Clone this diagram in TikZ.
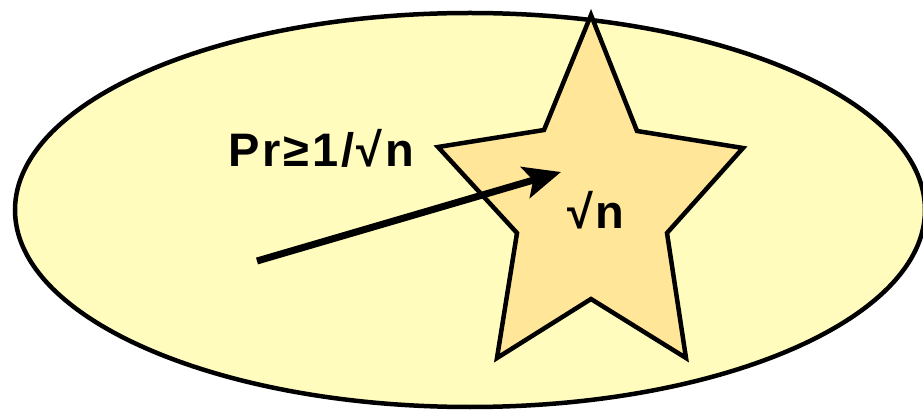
\documentclass[tikz,border=0pt]{standalone}
\usepackage{fontspec}
\setmainfont{Liberation Sans}
\usetikzlibrary{arrows.meta,shapes.geometric,positioning}
\definecolor{setyellow}{RGB}{255,252,190}
\definecolor{staryellow}{RGB}{255,230,153}
\tikzset{
  lbl/.style={font=\bfseries\fontsize{47}{56}\selectfont\addfontfeatures{LetterSpace=6}, inner sep=0pt},
  outline/.style={draw=black, line width=4.5pt, line join=miter},
}

\begin{document}
\begin{tikzpicture}[x=1pt,y=-1pt]
  % sample space with the sqrt(n) target set
  \useasboundingbox (0,0) rectangle (923,411);
  \node[ellipse, outline, fill=setyellow, minimum width=910pt, minimum height=394pt, inner sep=0pt] (space) at (470,210) {};
  \draw[outline, fill=staryellow] (591,15) -- (544,130) -- (438,147) -- (517,233) -- (497,358) -- (591,299)
    -- (686,358) -- (667,233) -- (743,148) -- (637,131) -- cycle;

  \node[lbl, anchor=base west] (prob) at (228,167) {Pr≥1/√n};
  \node[lbl, anchor=base west] (size) at (567,229) {√n};

  \coordinate (start) at (257,261);
  \coordinate (hit) at (561,172);
  \draw[-{Stealth[length=37pt,width=32pt,inset=8pt]}, line width=7pt] (start) -- (hit);
\end{tikzpicture}
\end{document}
